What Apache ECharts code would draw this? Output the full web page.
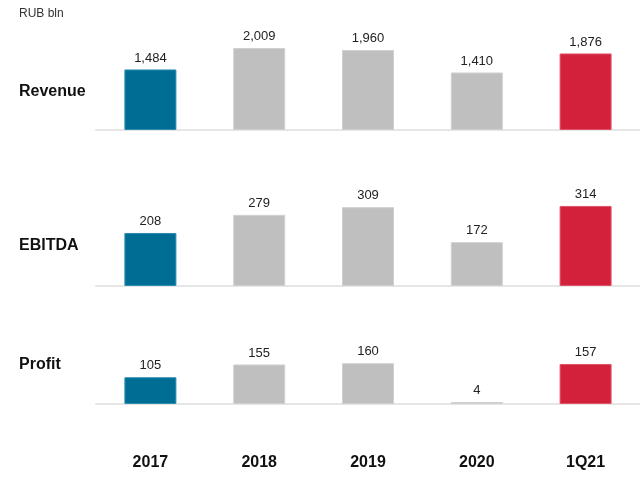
<!DOCTYPE html>
<html><head><meta charset="utf-8">
<script src="https://cdn.jsdelivr.net/npm/echarts@6/dist/echarts.min.js"></script>
<style>html,body{margin:0;padding:0;background:#fff}#c{width:640px;height:484px}</style>
</head><body><div id="c"></div>
<script>
const categories = ['2017','2018','2019','2020','1Q21'];
const revenue = [1484, 2009, 1960, 1410, 1876];
const ebitda = [208, 279, 309, 172, 314];
const profit = [105, 155, 160, 4, 157];
const rowTitles = ['Revenue','EBITDA','Profit'];
const unitLabel = 'RUB bln';

const colors = ['#006d94','#bfbfbf','#bfbfbf','#bfbfbf','#d3213c'];
const borders = ['#2f8db0','#d0d0d0','#d0d0d0','#d0d0d0','#e0556a'];

const chart = echarts.init(document.getElementById('c'));
const grids = [
  {left:96, width:548, top:28, height:102},
  {left:96, width:548, top:184, height:102},
  {left:96, width:548, top:302, height:102}
];
const datasets = [revenue, ebitda, profit];
const maxes = [2500, 400, 400];
const fmt = v => v.toLocaleString('en-US');

const option = {
  animation:false,
  grid: grids,
  xAxis: grids.map((g,i)=>({
    type:'category', gridIndex:i, data:categories,
    axisLine:{lineStyle:{color:'#e6e6e6', width:2}},
    axisTick:{show:false},
    axisLabel:{show:i===2, margin:51, fontSize:16, fontWeight:'bold', color:'#111', fontFamily:'Liberation Sans'}
  })),
  yAxis: grids.map((g,i)=>({type:'value', gridIndex:i, min:0, max:maxes[i], show:false, splitLine:{show:false}})),
  series: datasets.map((d,i)=>({
    type:'bar', xAxisIndex:i, yAxisIndex:i, barWidth:52, barMinHeight:2,
    data: d.map((v,j)=>({value:v, itemStyle:{color:colors[j], borderColor:borders[j], borderWidth:1}})),
    label:{show:true, position:'top', distance:5, fontSize:13, color:'#222', fontFamily:'Liberation Sans', formatter:p=>fmt(p.value)}
  })),
  graphic: [
    {type:'text', left:19, top:8, style:{text:unitLabel, fontSize:12, fill:'#333', fontFamily:'Liberation Sans'}},
    {type:'text', left:19, top:84, style:{text:rowTitles[0], fontSize:16, fontWeight:'bold', fill:'#111', fontFamily:'Liberation Sans'}},
    {type:'text', left:19, top:238, style:{text:rowTitles[1], fontSize:16, fontWeight:'bold', fill:'#111', fontFamily:'Liberation Sans'}},
    {type:'text', left:19, top:357, style:{text:rowTitles[2], fontSize:16, fontWeight:'bold', fill:'#111', fontFamily:'Liberation Sans'}}
  ]
};
chart.setOption(option);
</script></body></html>
